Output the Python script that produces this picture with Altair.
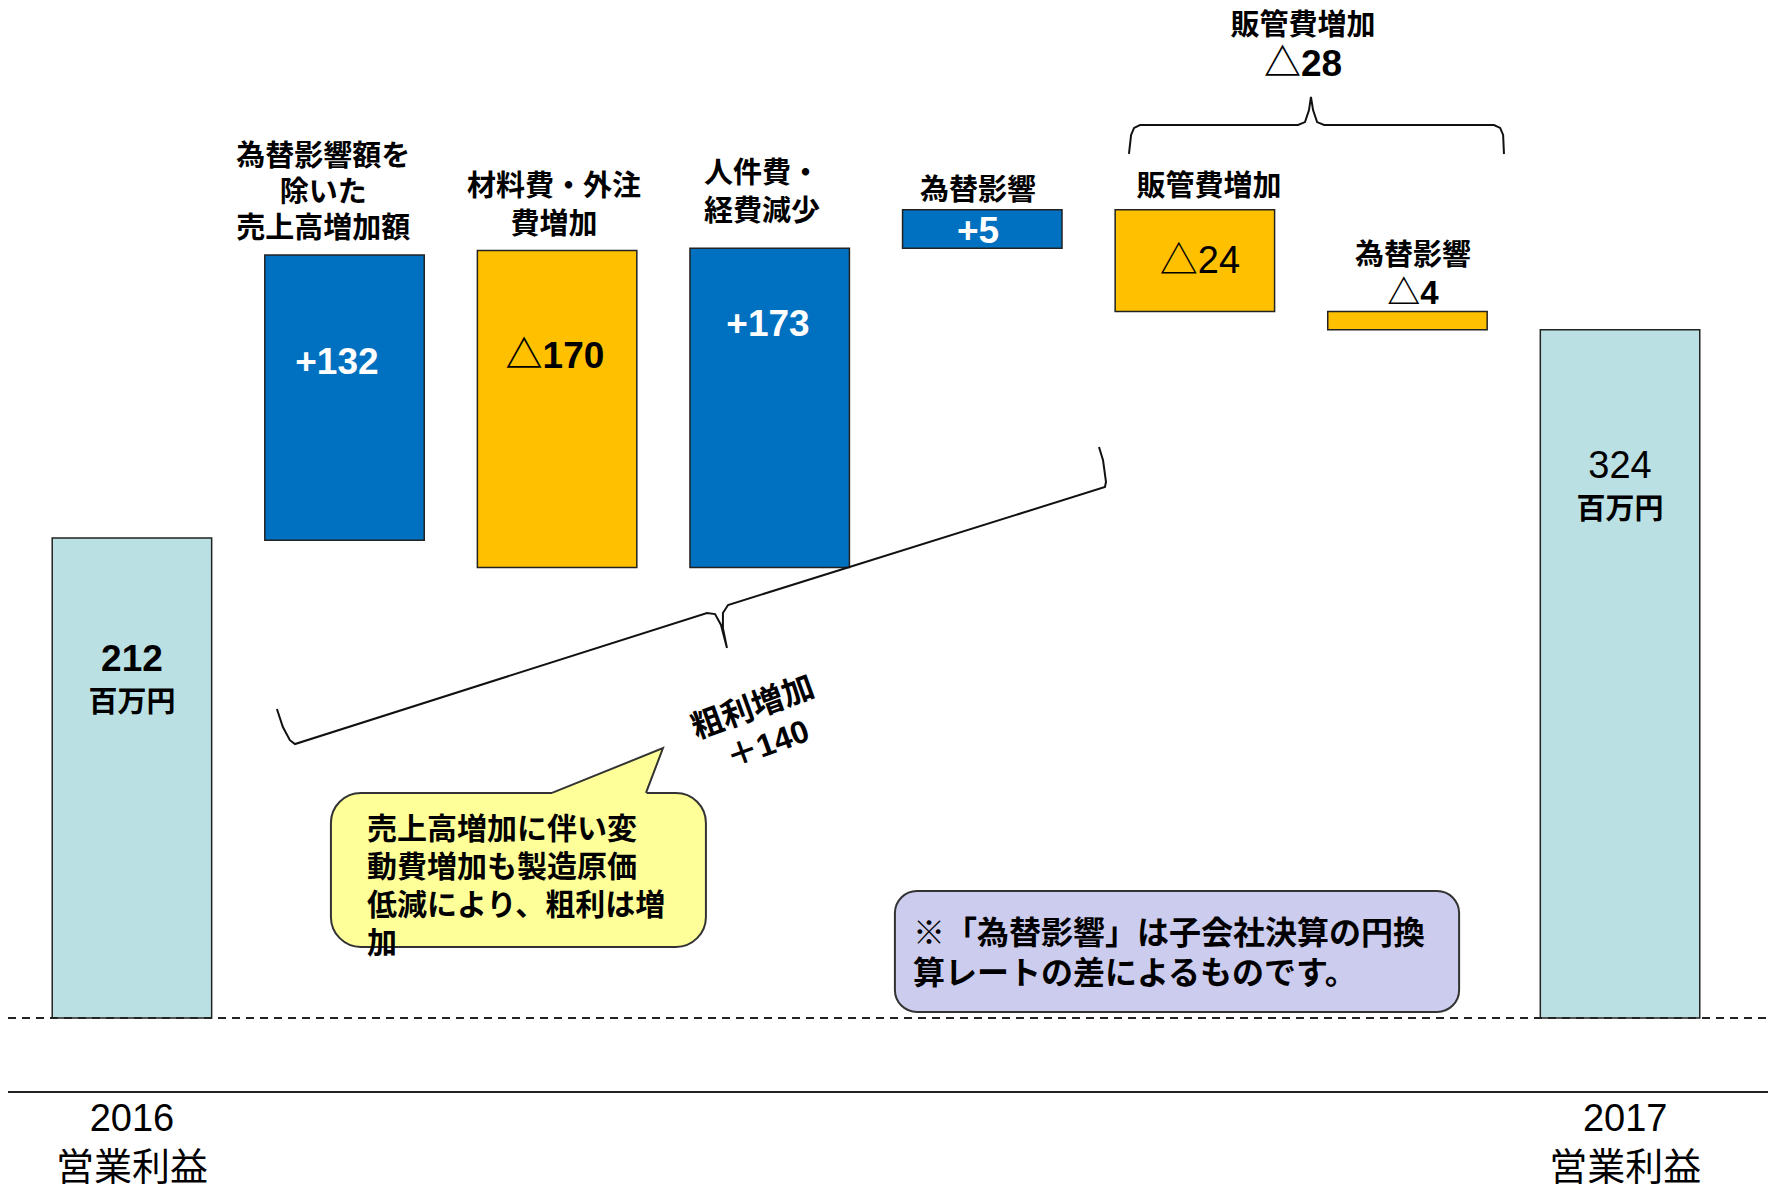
import altair as alt
import pandas as pd

# ---------------- data (drawn extents, chart value units) ----------------
steps = ["2016 営業利益", "売上高増加額", "材料費・外注費増加", "人件費・経費減少",
         "為替影響(+)", "販管費増加", "為替影響(△)", "2017 営業利益"]
step_pos = [0, 1, 2, 3, 4, 5, 6, 7]
step_kind = ["total", "up", "down", "up", "up", "down", "down", "total"]
bar_from = [0, 211, 339, 199, 340, 357, 312, 0]
bar_to = [212, 337, 199, 340, 357, 312, 304, 304]

# category labels (bold)
cat_text = ["為替影響額を", "除いた", "売上高増加額", "材料費・外注", "費増加", "人件費・", "経費減少",
            "為替影響", "販管費増加", "為替影響", "販管費増加"]
cat_x = [0.90, 0.90, 0.90, 1.985, 1.985, 2.964, 2.964, 3.98, 5.067, 6.026, 5.509]
cat_y = [380.3, 364.4, 348.5, 367.0, 350.2, 372.8, 356.0, 365.2, 367.0, 336.5, 438.1]

# value labels
white_text = ["+132", "+173", "+5"]
white_x = [0.964, 2.992, 3.98]
white_y = [289.3, 306.1, 347.1]

num_text = ["△170", "212", "△28"]
num_x = [1.99, 0.0, 5.509]
num_y = [291.9, 158.1, 420.9]

small_text = ["△4"]
small_x = [6.026]
small_y = [319.8]

unit_text = ["百万円", "百万円"]
unit_x = [0.0, 7.0]
unit_y = [139.1, 224.4]

plain_text = ["△24", "324"]
plain_x = [5.024, 7.0]
plain_y = [333.9, 243.4]

axis_text = ["2016", "営業利益", "2017", "営業利益"]
axis_x = [0.0, 0.0, 7.024, 7.024]
axis_y = [-45.0, -66.5, -45.0, -66.5]

# rotated gross-profit label
rot_text = ["粗利増加", "＋140"]
rot_x = [2.921, 2.992]
rot_y = [136.9, 120.6]

# left-aligned notes
bubble_text = ["売上高増加に伴い変", "動費増加も製造原価", "低減により、粗利は増", "加"]
bubble_tx = [1.106, 1.106, 1.106, 1.106]
bubble_ty = [83.0, 66.2, 49.5, 32.7]
box_text = ["※「為替影響」は子会社決算の円換", "算レートの差によるものです。"]
box_tx = [3.674, 3.674]
box_ty = [37.1, 19.4]

# braces
brace_id = ["low"] * 15 + ["top"] * 15
brace_x = [0.682, 0.710, 0.743, 0.767, 2.705, 2.743, 2.771, 2.799, 2.780, 2.780, 2.804, 4.577, 4.582, 4.568, 4.549,
           4.690, 4.700, 4.714, 4.742, 5.485, 5.518, 5.537, 5.546, 5.556, 5.575, 5.608, 6.407, 6.436, 6.450, 6.454]
brace_y = [136.5, 128.5, 122.7, 121.0, 178.9, 178.4, 173.6, 163.4, 172.2, 178.9, 182.4, 234.5, 236.7, 246.4, 252.2,
           381.6, 390.0, 393.1, 394.4, 394.4, 395.7, 401.0, 406.8, 401.0, 395.7, 394.4, 394.4, 393.1, 390.0, 381.6]

# callout bubble and note box
bubble_x = [0.936, 2.700]
bubble_y = [31.4, 99.4]
tail_x = [1.976, 2.418, 2.498]
tail_top = [99.4, 116.2, 119.2]
tail_bottom = [98.4, 98.4, 119.2]
tail_edge_x = [1.976, 2.498, 2.418]
tail_edge_y = [99.4, 119.2, 99.4]
box_x = [3.589, 6.243]
box_y = [2.65, 56.1]

# reference lines
base_y = 0
floor_y = -32.7
line_x = [-0.583, 7.696]

# ---------------- chart ----------------
FONT = "Liberation Sans, Noto Sans CJK JP"
xs = alt.Scale(domain=[-0.583, 7.696], nice=False, zero=False)
ys = alt.Scale(domain=[-75.96, 446.07], nice=False, zero=False)


def X(f="x"):
    return alt.X(f + ":Q", scale=xs, axis=None)


def Y(f="y"):
    return alt.Y(f + ":Q", scale=ys, axis=None)


bars_df = pd.DataFrame({"step": steps, "pos": step_pos, "kind": step_kind,
                        "start": bar_from, "end": bar_to})
bars = alt.Chart(bars_df).transform_calculate(
    x0="datum.pos - 0.375", x1="datum.pos + 0.375"
).mark_rect(stroke="#222222", strokeWidth=1.5).encode(
    x=X("x0"), x2="x1:Q", y=Y("start"), y2="end:Q",
    color=alt.Color("kind:N", scale=alt.Scale(domain=["total", "up", "down"],
                                              range=["#BBE0E3", "#0070C0", "#FFC000"]), legend=None),
)

bubble = alt.Chart(pd.DataFrame({"x": [bubble_x[0]], "x2": [bubble_x[1]],
                                 "y": [bubble_y[0]], "y2": [bubble_y[1]]})).mark_rect(
    fill="#FFFF99", stroke="#333333", strokeWidth=2, cornerRadius=30
).encode(x=X(), x2="x2:Q", y=Y(), y2="y2:Q")

tail = alt.Chart(pd.DataFrame({"x": tail_x, "y": tail_top, "y2": tail_bottom})).mark_area(
    color="#FFFF99", opacity=1
).encode(x=X(), y=Y(), y2="y2:Q")

tail_edge = alt.Chart(pd.DataFrame({"x": tail_edge_x, "y": tail_edge_y,
                                    "i": list(range(len(tail_edge_x)))})).mark_line(
    color="#333333", strokeWidth=2
).encode(x=X(), y=Y(), order="i:Q")

box = alt.Chart(pd.DataFrame({"x": [box_x[0]], "x2": [box_x[1]],
                              "y": [box_y[0]], "y2": [box_y[1]]})).mark_rect(
    fill="#CCCCEE", stroke="#333333", strokeWidth=2, cornerRadius=22
).encode(x=X(), x2="x2:Q", y=Y(), y2="y2:Q")

braces = alt.Chart(pd.DataFrame({"id": brace_id, "x": brace_x, "y": brace_y,
                                 "i": list(range(len(brace_x)))})).mark_line(
    color="#111111", strokeWidth=2
).encode(x=X(), y=Y(), detail="id:N", order="i:Q")

lines_df = pd.DataFrame({"x": [line_x[0], line_x[0]], "x2": [line_x[1], line_x[1]],
                         "y": [base_y, floor_y], "kind": ["dash", "solid"]})
dash_line = alt.Chart(lines_df).transform_filter("datum.kind == 'dash'").mark_rule(
    color="#222222", strokeWidth=1.8, strokeDash=[8, 6]
).encode(x=X(), x2="x2:Q", y=Y())
solid_line = alt.Chart(lines_df).transform_filter("datum.kind == 'solid'").mark_rule(
    color="#222222", strokeWidth=2
).encode(x=X(), x2="x2:Q", y=Y())


def text_layer(texts, xv, yv, size, weight="bold", color="#000000", align="center", angle=None):
    df = pd.DataFrame({"t": texts, "x": xv, "y": yv})
    kw = dict(font=FONT, fontWeight=weight, align=align, baseline="middle", color=color, fontSize=size)
    if angle is not None:
        kw["angle"] = angle
    return alt.Chart(df).mark_text(**kw).encode(x=X(), y=Y(), text="t:N")


texts = [
    text_layer(cat_text, cat_x, cat_y, 29),
    text_layer(white_text, white_x, white_y, 37, color="#FFFFFF"),
    text_layer(num_text, num_x, num_y, 37),
    text_layer(small_text, small_x, small_y, 33),
    text_layer(unit_text, unit_x, unit_y, 29),
    text_layer(plain_text, plain_x, plain_y, 38, weight="normal"),
    text_layer(axis_text, axis_x, axis_y, 38, weight="normal"),
    text_layer(rot_text, rot_x, rot_y, 32, angle=340),
    text_layer(bubble_text, bubble_tx, bubble_ty, 30, align="left"),
    text_layer(box_text, box_tx, box_ty, 32, align="left"),
]

chart = alt.layer(
    bars, bubble, tail, tail_edge, box, braces, dash_line, solid_line, *texts
).resolve_scale(color="independent").properties(
    width=1760, height=1182, padding=0, autosize=alt.AutoSizeParams(type="none"),
    background="#FFFFFF"
).configure_view(stroke=None)

chart.save("out.html", embed_options={"renderer": "svg", "actions": False})
